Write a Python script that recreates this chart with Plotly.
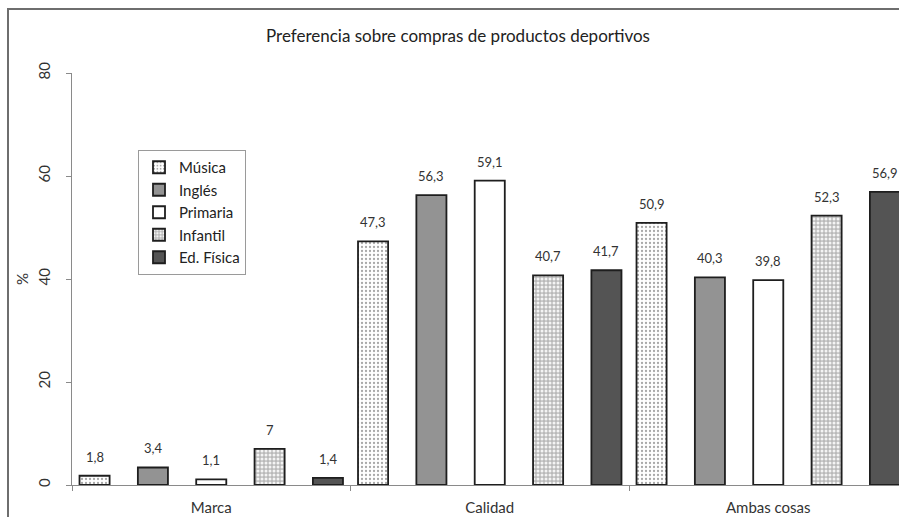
import plotly.graph_objects as go

# Purchase preference by group (%)
categories = ["Marca", "Calidad", "Ambas cosas"]
series_names = ["Música", "Inglés", "Primaria", "Infantil", "Ed. Física"]
musica = [1.8, 47.3, 50.9]
ingles = [3.4, 56.3, 40.3]
primaria = [1.1, 59.1, 39.8]
infantil = [7, 40.7, 52.3]
ed_fisica = [1.4, 41.7, 56.9]
y_ticks = [0, 20, 40, 60, 80]

series_values = [musica, ingles, primaria, infantil, ed_fisica]

FONT = "Lato"
TEXT = "#333333"
AXIS = "#8a8a8a"

# fill style for each series
styles = [
    dict(color="#ffffff", pattern=dict(shape=".", fgcolor="#a8a8a8", bgcolor="#ffffff",
                                       size=4, solidity=0.25, fillmode="replace")),
    dict(color="#939393"),
    dict(color="#ffffff"),
    dict(color="#c4c4c4", pattern=dict(shape=".", fgcolor="#f4f4f4", bgcolor="#b9b9b9",
                                       size=4, solidity=0.45, fillmode="replace")),
    dict(color="#545454"),
]

bar_w = 0.108
step = 0.2095

fig = go.Figure()
annotations = []
for k, (name, vals, st) in enumerate(zip(series_names, series_values, styles)):
    center = (k - 2) * step
    marker = dict(color=st["color"], line=dict(color="#1e1e1e", width=1.8))
    if "pattern" in st:
        marker["pattern"] = st["pattern"]
    fig.add_trace(go.Bar(
        name=name, x=categories, y=vals,
        offset=center - bar_w / 2, width=bar_w,
        marker=marker, hoverinfo="skip",
    ))
    for i, v in enumerate(vals):
        label = f"{v:g}".replace(".", ",")
        annotations.append(dict(
            x=i + center, y=v, xref="x", yref="y", text=label, showarrow=False,
            yanchor="bottom", yshift=9, font=dict(family=FONT, size=13, color=TEXT),
        ))

# title and y-axis caption
annotations.append(dict(
    text="Preferencia sobre compras de productos deportivos",
    xref="paper", yref="paper", x=(458 - 72) / 827, y=(485 - 36) / 412,
    xanchor="center", yanchor="middle", showarrow=False,
    font=dict(family=FONT, size=17, color="#222222"),
))
annotations.append(dict(
    text="%", xref="paper", yref="paper", x=(22 - 72) / 827, y=0.5,
    xanchor="center", yanchor="middle", showarrow=False, textangle=-90,
    font=dict(family=FONT, size=15, color=TEXT),
))

fig.update_layout(
    width=899, height=517, autosize=False,
    margin=dict(l=72, r=0, t=73, b=32),
    paper_bgcolor="white", plot_bgcolor="white",
    barmode="overlay",
    showlegend=True,
    legend=dict(
        x=(138 - 72) / 827, y=(485 - 150) / 412, xanchor="left", yanchor="top",
        bordercolor="#9a9a9a", borderwidth=1, bgcolor="white",
        font=dict(family=FONT, size=15, color="#222222"),
        traceorder="normal", itemwidth=30, tracegroupgap=0,
    ),
    annotations=annotations,
    shapes=[dict(
        type="rect", xref="paper", yref="paper",
        x0=(8 - 72) / 827, x1=1.2, y0=-0.3, y1=(485 - 9) / 412,
        line=dict(color="#6e6e6e", width=2), fillcolor="rgba(0,0,0,0)", layer="above",
    )],
    xaxis=dict(
        type="category", categoryarray=categories,
        range=[-0.5, 2.5 - 8.5 / 278.5],
        showline=True, linecolor=AXIS, linewidth=1,
        ticks="outside", tickson="boundaries", ticklen=5, tickcolor=AXIS,
        showgrid=False, zeroline=False, ticklabelstandoff=9,
        tickfont=dict(family=FONT, size=15, color=TEXT),
    ),
    yaxis=dict(
        range=[0, 80], tickvals=y_ticks,
        showline=True, linecolor=AXIS, linewidth=1,
        ticks="outside", ticklen=5, tickcolor=AXIS,
        showgrid=False, zeroline=False,
        tickangle=-90, ticklabelstandoff=10,
        tickfont=dict(family=FONT, size=15, color=TEXT),
    ),
)

fig.write_html("out.html")
